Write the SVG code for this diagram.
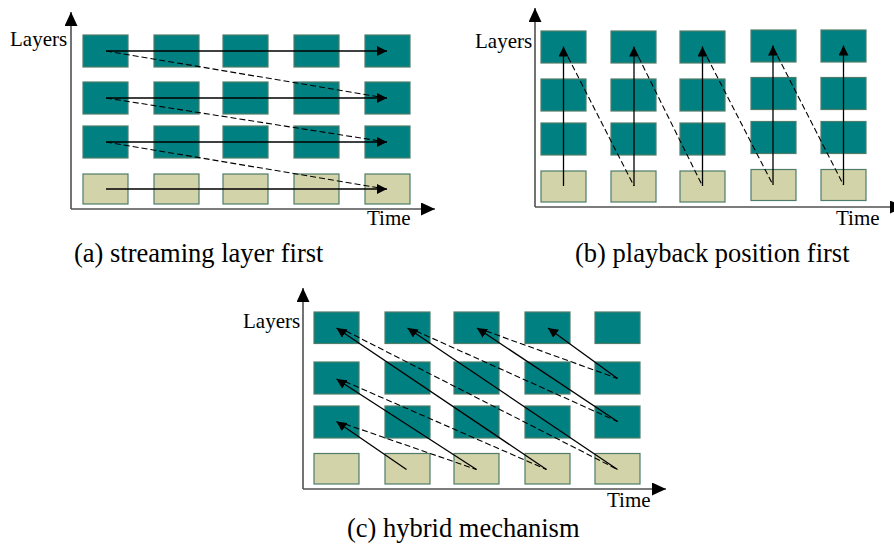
<svg xmlns="http://www.w3.org/2000/svg" width="894" height="550" viewBox="0 0 894 550">
<defs>
<style>
.t{fill:#008080;stroke:#4f7d6a;stroke-width:1.2}
.b{fill:#d3d3aa;stroke:#4f7d6a;stroke-width:1.2}
.ax{stroke:#505050;stroke-width:1.6;fill:none}
.s{stroke:#000;stroke-width:1.3;fill:none;marker-end:url(#ah)}
.d{stroke:#000;stroke-width:1.1;fill:none;stroke-dasharray:6,3}
.lab{font-family:"Liberation Serif","Times New Roman",serif;font-size:21px;fill:#000}
.cap{font-family:"Liberation Serif","Times New Roman",serif;font-size:26.5px;fill:#000}
</style>
<marker id="ah" markerUnits="userSpaceOnUse" markerWidth="10" markerHeight="10" viewBox="0 0 10 10" refX="10" refY="5" orient="auto"><path d="M0,0 L10,5 L0,10 z" fill="#000"/></marker>
<marker id="axh" markerUnits="userSpaceOnUse" markerWidth="14" markerHeight="13" viewBox="0 0 14 13" refX="14" refY="6.5" orient="auto"><path d="M0,0 L14,6.5 L0,13 z" fill="#000"/></marker>
</defs>

<!-- Panel (a) -->
<g id="a-axes">
<line class="ax" x1="71" y1="209" x2="71" y2="12" marker-end="url(#axh)"/>
<line class="ax" x1="71" y1="209" x2="435" y2="209" marker-end="url(#axh)"/>
<text class="lab" x="10" y="46">Layers</text>
<text class="lab" x="367" y="225">Time</text>
</g>
<g id="a-r1c1"><rect class="t" x="83" y="35" width="45" height="32"/></g>
<g id="a-r1c2"><rect class="t" x="154" y="35" width="45" height="32"/></g>
<g id="a-r1c3"><rect class="t" x="223" y="35" width="45" height="32"/></g>
<g id="a-r1c4"><rect class="t" x="294" y="35" width="45" height="32"/></g>
<g id="a-r1c5"><rect class="t" x="365" y="35" width="45" height="32"/></g>
<g id="a-r2c1"><rect class="t" x="83" y="82" width="45" height="32"/></g>
<g id="a-r2c2"><rect class="t" x="154" y="82" width="45" height="32"/></g>
<g id="a-r2c3"><rect class="t" x="223" y="82" width="45" height="32"/></g>
<g id="a-r2c4"><rect class="t" x="294" y="82" width="45" height="32"/></g>
<g id="a-r2c5"><rect class="t" x="365" y="82" width="45" height="32"/></g>
<g id="a-r3c1"><rect class="t" x="83" y="126" width="45" height="32"/></g>
<g id="a-r3c2"><rect class="t" x="154" y="126" width="45" height="32"/></g>
<g id="a-r3c3"><rect class="t" x="223" y="126" width="45" height="32"/></g>
<g id="a-r3c4"><rect class="t" x="294" y="126" width="45" height="32"/></g>
<g id="a-r3c5"><rect class="t" x="365" y="126" width="45" height="32"/></g>
<g id="a-r4c1"><rect class="b" x="83" y="174" width="45" height="30"/></g>
<g id="a-r4c2"><rect class="b" x="154" y="174" width="45" height="30"/></g>
<g id="a-r4c3"><rect class="b" x="223" y="174" width="45" height="30"/></g>
<g id="a-r4c4"><rect class="b" x="294" y="174" width="45" height="30"/></g>
<g id="a-r4c5"><rect class="b" x="365" y="174" width="45" height="30"/></g>
<g id="a-connectors">
<line class="s" x1="106" y1="51" x2="387" y2="51"/>
<line class="s" x1="106" y1="98" x2="387" y2="98"/>
<line class="s" x1="106" y1="142" x2="387" y2="142"/>
<line class="s" x1="106" y1="189" x2="387" y2="189"/>
<line class="d" x1="106" y1="51" x2="380" y2="97"/>
<line class="d" x1="106" y1="98" x2="380" y2="141"/>
<line class="d" x1="106" y1="142" x2="380" y2="188"/>
</g>
<text class="cap" x="74" y="262">(a) streaming layer first</text>

<!-- Panel (b) -->
<g id="b-axes">
<line class="ax" x1="535" y1="207" x2="535" y2="8" marker-end="url(#axh)"/>
<line class="ax" x1="535" y1="207" x2="904" y2="207" marker-end="url(#axh)"/>
<text class="lab" x="475" y="48">Layers</text>
<text class="lab" x="836" y="225">Time</text>
</g>
<g id="b-r1c1"><rect class="t" x="541" y="31" width="45" height="32"/></g>
<g id="b-r1c2"><rect class="t" x="611" y="31" width="45" height="32"/></g>
<g id="b-r1c3"><rect class="t" x="680" y="31" width="45" height="32"/></g>
<g id="b-r1c4"><rect class="t" x="751" y="30" width="45" height="32"/></g>
<g id="b-r1c5"><rect class="t" x="821" y="30" width="45" height="32"/></g>
<g id="b-r2c1"><rect class="t" x="541" y="79" width="45" height="32"/></g>
<g id="b-r2c2"><rect class="t" x="611" y="79" width="45" height="32"/></g>
<g id="b-r2c3"><rect class="t" x="680" y="79" width="45" height="32"/></g>
<g id="b-r2c4"><rect class="t" x="751" y="77.5" width="45" height="32"/></g>
<g id="b-r2c5"><rect class="t" x="821" y="77.5" width="45" height="32"/></g>
<g id="b-r3c1"><rect class="t" x="541" y="123" width="45" height="32"/></g>
<g id="b-r3c2"><rect class="t" x="611" y="123" width="45" height="32"/></g>
<g id="b-r3c3"><rect class="t" x="680" y="123" width="45" height="32"/></g>
<g id="b-r3c4"><rect class="t" x="751" y="121.5" width="45" height="32"/></g>
<g id="b-r3c5"><rect class="t" x="821" y="121.5" width="45" height="32"/></g>
<g id="b-r4c1"><rect class="b" x="541" y="171" width="45" height="31"/></g>
<g id="b-r4c2"><rect class="b" x="611" y="171" width="45" height="31"/></g>
<g id="b-r4c3"><rect class="b" x="680" y="171" width="45" height="31"/></g>
<g id="b-r4c4"><rect class="b" x="751" y="169.5" width="45" height="31"/></g>
<g id="b-r4c5"><rect class="b" x="821" y="169.5" width="45" height="31"/></g>
<g id="b-connectors">
<line class="s" x1="563.5" y1="186" x2="563.5" y2="46.5"/>
<line class="s" x1="634" y1="186" x2="634" y2="46.5"/>
<line class="s" x1="702.5" y1="186" x2="702.5" y2="46.5"/>
<line class="s" x1="773" y1="185" x2="773" y2="45.5"/>
<line class="s" x1="843.5" y1="185" x2="843.5" y2="45.5"/>
<line class="d" x1="568" y1="57" x2="634" y2="186"/>
<line class="d" x1="638.5" y1="57" x2="702.5" y2="186"/>
<line class="d" x1="707" y1="57" x2="773" y2="185"/>
<line class="d" x1="777.5" y1="56" x2="843.5" y2="185"/>
</g>
<text class="cap" x="575" y="262">(b) playback position first</text>

<!-- Panel (c) -->
<g id="c-axes">
<line class="ax" x1="303" y1="489" x2="303" y2="288" marker-end="url(#axh)"/>
<line class="ax" x1="303" y1="489" x2="666" y2="489" marker-end="url(#axh)"/>
<text class="lab" x="243" y="328">Layers</text>
<text class="lab" x="607" y="507">Time</text>
</g>
<g id="c-r1c1"><rect class="t" x="314" y="312" width="45" height="31.5"/></g>
<g id="c-r1c2"><rect class="t" x="385" y="312" width="45" height="31.5"/></g>
<g id="c-r1c3"><rect class="t" x="454" y="312" width="45" height="31.5"/></g>
<g id="c-r1c4"><rect class="t" x="525" y="312" width="45" height="31.5"/></g>
<g id="c-r1c5"><rect class="t" x="595" y="312" width="45" height="31.5"/></g>
<g id="c-r2c1"><rect class="t" x="314" y="362" width="45" height="32"/></g>
<g id="c-r2c2"><rect class="t" x="385" y="362" width="45" height="32"/></g>
<g id="c-r2c3"><rect class="t" x="454" y="362" width="45" height="32"/></g>
<g id="c-r2c4"><rect class="t" x="525" y="362" width="45" height="32"/></g>
<g id="c-r2c5"><rect class="t" x="595" y="362" width="45" height="32"/></g>
<g id="c-r3c1"><rect class="t" x="314" y="406" width="45" height="32"/></g>
<g id="c-r3c2"><rect class="t" x="385" y="406" width="45" height="32"/></g>
<g id="c-r3c3"><rect class="t" x="454" y="406" width="45" height="32"/></g>
<g id="c-r3c4"><rect class="t" x="525" y="406" width="45" height="32"/></g>
<g id="c-r3c5"><rect class="t" x="595" y="406" width="45" height="32"/></g>
<g id="c-r4c1"><rect class="b" x="314" y="453.5" width="45" height="30.5"/></g>
<g id="c-r4c2"><rect class="b" x="385" y="453.5" width="45" height="30.5"/></g>
<g id="c-r4c3"><rect class="b" x="454" y="453.5" width="45" height="30.5"/></g>
<g id="c-r4c4"><rect class="b" x="525" y="453.5" width="45" height="30.5"/></g>
<g id="c-r4c5"><rect class="b" x="595" y="453.5" width="45" height="30.5"/></g>
<g id="c-connectors">
<line class="s" x1="406.5" y1="469.5" x2="336.5" y2="421.5"/>
<line class="s" x1="476.5" y1="469.5" x2="336.5" y2="379"/>
<line class="s" x1="546.5" y1="469.5" x2="336.5" y2="328"/>
<line class="s" x1="617.5" y1="469.5" x2="407.5" y2="328"/>
<line class="s" x1="617.5" y1="421.5" x2="477" y2="328"/>
<line class="s" x1="617.5" y1="378.5" x2="548" y2="328"/>
<line class="d" x1="345" y1="424" x2="476.5" y2="469.5"/>
<line class="d" x1="345" y1="381.5" x2="546.5" y2="469.5"/>
<line class="d" x1="346" y1="331" x2="617.5" y2="469.5"/>
<line class="d" x1="416" y1="331" x2="617.5" y2="421.5"/>
<line class="d" x1="486" y1="331" x2="617.5" y2="378.5"/>
</g>
<text class="cap" x="347" y="537">(c) hybrid mechanism</text>
</svg>
